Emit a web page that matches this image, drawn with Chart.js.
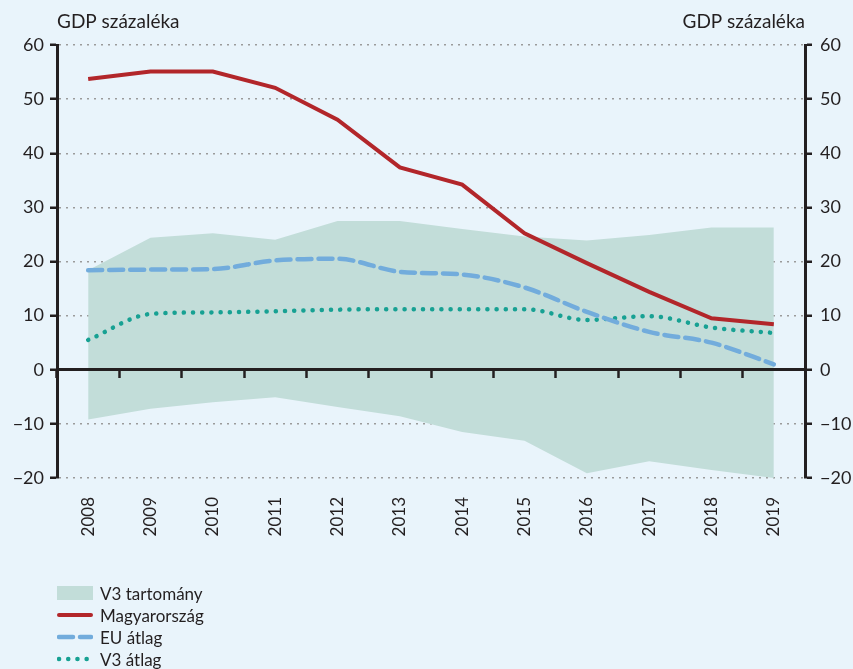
<!DOCTYPE html>
<html lang="hu">
<head>
<meta charset="utf-8">
<title>GDP százaléka</title>
<script src="https://cdn.jsdelivr.net/npm/chart.js@4.4.1/dist/chart.umd.min.js"></script>
<style>
  html, body { margin: 0; padding: 0; background: #e9f4fb; }
  #wrap { position: relative; width: 853px; height: 669px; overflow: hidden; }
  #chart { display: block; }
  #legend { position: absolute; left: 57px; top: 582px; font: 17px Lato, sans-serif; color: #231f20; }
  .item { display: flex; align-items: center; height: 22px; }
  .item svg { margin-right: 7px; }
</style>
</head>
<body>
<div id="wrap">
  <canvas id="chart" width="853" height="669"></canvas>
  <div id="legend"></div>
</div>
<script>
// GDP arányos adatok, 2008-2019
const years = ['2008', '2009', '2010', '2011', '2012', '2013', '2014', '2015', '2016', '2017', '2018', '2019'];
const hungary = [53.7, 55.1, 55.1, 52.1, 46.2, 37.4, 34.2, 25.2, 19.7, 14.4, 9.5, 8.4];
const euAvg = [18.4, 18.5, 18.6, 20.2, 20.5, 18.1, 17.6, 15.2, 10.7, 7.0, 5.0, 1.0];
const v3Avg = [5.5, 10.3, 10.6, 10.8, 11.1, 11.2, 11.2, 11.2, 9.2, 9.9, 7.8, 6.8];
const v3Max = [18.4, 24.4, 25.2, 24.0, 27.5, 27.5, 26.0, 24.6, 23.9, 24.9, 26.3, 26.3];
const v3Min = [-9.2, -7.2, -6.0, -5.1, -6.9, -8.6, -11.5, -13.1, -19.1, -16.9, -18.5, -20.0];
const yMin = -20;
const yMax = 60;
const yStep = 10;
const unitLabel = 'GDP százaléka';

const ink = '#231f20';
const red = '#b2262a';
const blue = '#72acdc';
const teal = '#17a193';
const band = '#c2ddd9';

Chart.defaults.font.family = 'Lato, sans-serif';
Chart.defaults.color = ink;

const minus = v => String(v).replace('-', '\u2212');

// "GDP százaléka" above both axes
const axisTitles = {
    id: 'axisTitles',
    afterDraw(chart) {
        const { ctx, chartArea } = chart;
        ctx.save();
        ctx.font = '19px Lato, sans-serif';
        ctx.fillStyle = ink;
        ctx.textBaseline = 'alphabetic';
        ctx.textAlign = 'left';
        ctx.fillText(unitLabel, chartArea.left, 28);
        ctx.textAlign = 'right';
        ctx.fillText(unitLabel, chartArea.right, 28);
        ctx.restore();
    }
};

const yAxis = (position, width) => ({
    type: 'linear',
    position: position,
    min: yMin,
    max: yMax,
    ticks: { stepSize: yStep, padding: position === 'left' ? 6 : 8, font: { size: 18 }, color: ink, callback: minus },
    grid: {
        drawOnChartArea: position === 'left',
        color: '#9b9b9b',
        lineWidth: 1.5,
        tickLength: 7,
        tickColor: ink,
        tickWidth: 2.5,
        tickBorderDash: []
    },
    border: { color: ink, width: 3, dash: [2, 5] },
    afterFit(scale) { scale.width = width; }
});

const chart = new Chart(document.getElementById('chart'), {
    type: 'line',
    data: {
        labels: years,
        datasets: [
            { label: 'Magyarország', data: hungary, borderColor: red, borderWidth: 4, pointRadius: 0, tension: 0, fill: false },
            { label: 'EU átlag', data: euAvg, borderColor: blue, borderWidth: 4.5, borderDash: [14, 7], borderCapStyle: 'round', pointRadius: 0, cubicInterpolationMode: 'monotone', fill: false },
            { label: 'V3 átlag', data: v3Avg, borderColor: teal, borderWidth: 4.5, borderDash: [0.1, 9.1], borderCapStyle: 'round', pointRadius: 0, cubicInterpolationMode: 'monotone', fill: false },
            { label: 'V3 tartomány', data: v3Max, borderColor: 'transparent', borderWidth: 0, backgroundColor: band, pointRadius: 0, fill: '+1' },
            { label: 'V3 min', data: v3Min, borderColor: 'transparent', borderWidth: 0, pointRadius: 0, fill: false }
        ]
    },
    options: {
        responsive: false,
        animation: false,
        layout: { padding: { top: 45, bottom: 121, left: 0, right: 0 } },
        plugins: {
            legend: { display: false },
            tooltip: { enabled: false }
        },
        scales: {
            // zero line with category ticks, drawn above the range band
            x: {
                type: 'category',
                offset: true,
                position: { y: 0 },
                ticks: { display: false },
                grid: { offset: true, drawOnChartArea: false, tickLength: 7, color: ink, tickColor: ink, tickWidth: 2.5, z: 1 },
                border: { color: ink, width: 3, z: 1 }
            },
            x2: {
                type: 'category',
                labels: years,
                offset: true,
                position: 'bottom',
                grid: { display: false, drawTicks: false },
                border: { display: false },
                ticks: { minRotation: 90, maxRotation: 90, padding: 19, color: ink, font: { size: 17 } },
                afterFit(scale) { scale.height = 70; }
            },
            y: yAxis('left', 57),
            y2: yAxis('right', 48)
        }
    },
    plugins: [axisTitles]
});

// Legend: range box first, then the three lines
const legendEl = document.getElementById('legend');
[3, 0, 1, 2].forEach(i => {
    const ds = chart.data.datasets[i];
    const row = document.createElement('div');
    row.className = 'item';
    let swatch;
    if (ds.fill) {
        swatch = `<svg width="36" height="16"><rect x="0" y="1" width="36" height="14" fill="${ds.backgroundColor}"/></svg>`;
    } else {
        const dash = ds.borderDash ? ds.borderDash.join(' ') : 'none';
        swatch = `<svg width="36" height="16"><line x1="2" y1="8" x2="34" y2="8" stroke="${ds.borderColor}" stroke-width="${ds.borderWidth}" stroke-linecap="round" stroke-dasharray="${dash}"/></svg>`;
    }
    row.innerHTML = swatch;
    const text = document.createElement('span');
    text.textContent = ds.label;
    row.appendChild(text);
    legendEl.appendChild(row);
});
</script>
</body>
</html>
